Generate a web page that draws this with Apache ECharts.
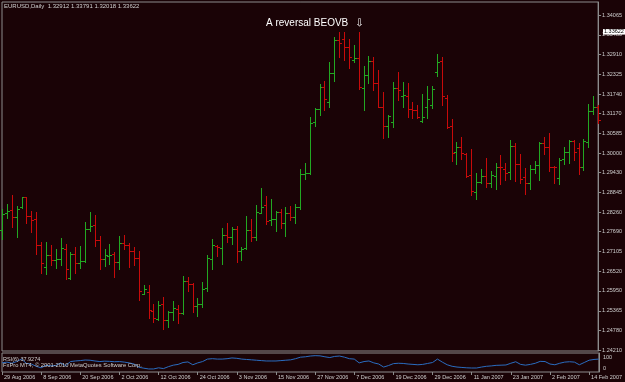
<!DOCTYPE html>
<html><head><meta charset="utf-8">
<script src="https://cdn.jsdelivr.net/npm/echarts@6/dist/echarts.min.js"></script>
<style>html,body{margin:0;padding:0;background:#1a0306;}#c{width:625px;height:382px;}</style>
</head><body><div id="c"></div>
<script>
const dates = [
'29 Aug 2006','30 Aug 2006','31 Aug 2006',
'1 Sep 2006','4 Sep 2006','5 Sep 2006','6 Sep 2006','7 Sep 2006','8 Sep 2006','11 Sep 2006','12 Sep 2006','13 Sep 2006','14 Sep 2006','15 Sep 2006','18 Sep 2006','19 Sep 2006','20 Sep 2006','21 Sep 2006','22 Sep 2006','25 Sep 2006','26 Sep 2006','27 Sep 2006','28 Sep 2006','29 Sep 2006',
'2 Oct 2006','3 Oct 2006','4 Oct 2006','5 Oct 2006','6 Oct 2006','9 Oct 2006','10 Oct 2006','11 Oct 2006','12 Oct 2006','13 Oct 2006','16 Oct 2006','17 Oct 2006','18 Oct 2006','19 Oct 2006','20 Oct 2006','23 Oct 2006','24 Oct 2006','25 Oct 2006','26 Oct 2006','27 Oct 2006','30 Oct 2006','31 Oct 2006',
'1 Nov 2006','2 Nov 2006','3 Nov 2006','6 Nov 2006','7 Nov 2006','8 Nov 2006','9 Nov 2006','10 Nov 2006','13 Nov 2006','14 Nov 2006','15 Nov 2006','16 Nov 2006','17 Nov 2006','20 Nov 2006','21 Nov 2006','22 Nov 2006','23 Nov 2006','24 Nov 2006','27 Nov 2006','28 Nov 2006','29 Nov 2006','30 Nov 2006',
'1 Dec 2006','4 Dec 2006','5 Dec 2006','6 Dec 2006','7 Dec 2006','8 Dec 2006','11 Dec 2006','12 Dec 2006','13 Dec 2006','14 Dec 2006','15 Dec 2006','18 Dec 2006','19 Dec 2006','20 Dec 2006','21 Dec 2006','22 Dec 2006','25 Dec 2006','26 Dec 2006','27 Dec 2006','28 Dec 2006','29 Dec 2006',
'2 Jan 2007','3 Jan 2007','4 Jan 2007','5 Jan 2007','8 Jan 2007','9 Jan 2007','10 Jan 2007','11 Jan 2007','12 Jan 2007','15 Jan 2007','16 Jan 2007','17 Jan 2007','18 Jan 2007','19 Jan 2007','22 Jan 2007','23 Jan 2007','24 Jan 2007','25 Jan 2007','26 Jan 2007','29 Jan 2007','30 Jan 2007','31 Jan 2007',
'1 Feb 2007','2 Feb 2007','5 Feb 2007','6 Feb 2007','7 Feb 2007','8 Feb 2007','9 Feb 2007','12 Feb 2007','13 Feb 2007','14 Feb 2007','15 Feb 2007','16 Feb 2007'
];
const opens = [1.27740,1.28250,1.28328,1.28113,1.28427,1.28701,1.28142,1.28054,1.27289,1.26661,1.26995,1.26870,1.26887,1.27191,1.26318,1.27034,1.26779,1.26838,1.27760,1.27877,1.27446,1.26887,1.26985,1.27024,1.26799,1.27348,1.27289,1.27122,1.26906,1.25857,1.25906,1.25367,1.25112,1.25563,1.25092,1.25318,1.25406,1.25288,1.26230,1.26152,1.25504,1.25552,1.26023,1.26886,1.27269,1.27200,1.27593,1.27524,1.27759,1.27132,1.27200,1.27740,1.27524,1.28240,1.28475,1.28044,1.28054,1.28269,1.27936,1.28230,1.28132,1.28407,1.29388,1.29407,1.30907,1.31300,1.31937,1.31515,1.32369,1.33330,1.33350,1.33114,1.32742,1.32791,1.31908,1.32300,1.32712,1.32074,1.31368,1.30809,1.30907,1.31908,1.31682,1.31682,1.31300,1.31270,1.30956,1.31368,1.31417,1.32379,1.32712,1.31633,1.30799,1.30044,1.30171,1.29965,1.29357,1.28857,1.29161,1.29328,1.29131,1.29328,1.29602,1.29524,1.29455,1.30210,1.29681,1.29288,1.29112,1.29524,1.29661,1.30289,1.30171,1.29602,1.29259,1.29818,1.30044,1.30367,1.30142,1.29602,1.30338,1.31250,1.31368];
const highs = [1.28358,1.28505,1.28770,1.28446,1.28711,1.28711,1.28299,1.28270,1.27377,1.27387,1.27299,1.27171,1.27505,1.27328,1.27083,1.27240,1.27269,1.27966,1.28270,1.28172,1.27573,1.27171,1.27318,1.27083,1.27564,1.27603,1.27358,1.27230,1.27132,1.26122,1.26122,1.25573,1.25641,1.25759,1.25347,1.25651,1.25543,1.26387,1.26357,1.26171,1.25739,1.26219,1.27004,1.27465,1.27298,1.27789,1.27936,1.27818,1.27857,1.27230,1.28161,1.28054,1.28475,1.28985,1.28740,1.28662,1.28299,1.28358,1.28426,1.28446,1.28505,1.29535,1.29702,1.31074,1.31319,1.32035,1.32124,1.32692,1.33409,1.33575,1.33556,1.33350,1.33193,1.33575,1.32565,1.32859,1.32820,1.32447,1.31810,1.31123,1.32104,1.32398,1.32104,1.32074,1.31515,1.31417,1.31741,1.31976,1.31976,1.32918,1.32840,1.31712,1.31005,1.30318,1.30466,1.29995,1.30132,1.29406,1.29524,1.29848,1.29475,1.29720,1.29946,1.29700,1.30387,1.30289,1.29975,1.29553,1.29641,1.29779,1.30338,1.30485,1.30583,1.29622,1.29848,1.30191,1.30387,1.30387,1.30309,1.30407,1.31437,1.31682,1.31417];
const lows = [1.27465,1.28083,1.27838,1.27544,1.28378,1.27936,1.27681,1.27044,1.26485,1.26455,1.26710,1.26632,1.26710,1.26299,1.26289,1.26485,1.26612,1.26789,1.27721,1.27269,1.26603,1.26681,1.26730,1.26367,1.26603,1.27171,1.26661,1.26710,1.25690,1.25847,1.25161,1.25024,1.25092,1.24827,1.24896,1.25082,1.25014,1.25259,1.25955,1.25338,1.25220,1.25483,1.25954,1.26592,1.26974,1.26729,1.27396,1.27328,1.26808,1.26857,1.27181,1.27426,1.27445,1.28230,1.27916,1.27877,1.27710,1.27799,1.27573,1.28034,1.27956,1.28367,1.29231,1.29398,1.30809,1.31123,1.31270,1.31368,1.32133,1.32840,1.32742,1.32496,1.32692,1.31878,1.31270,1.32074,1.31859,1.31368,1.30436,1.30485,1.30780,1.31564,1.31368,1.31054,1.31044,1.31025,1.30927,1.31025,1.31319,1.32271,1.31417,1.30731,1.29779,1.29681,1.29818,1.29288,1.28768,1.28641,1.29131,1.29014,1.29004,1.28945,1.29092,1.29210,1.29239,1.29190,1.29131,1.28798,1.28945,1.29406,1.29210,1.29975,1.29475,1.29112,1.29082,1.29681,1.29720,1.29799,1.29386,1.29504,1.30191,1.31142,1.30897];
const closes = [1.28210,1.28309,1.28113,1.28358,1.28701,1.28152,1.28034,1.27289,1.26759,1.26995,1.26857,1.26887,1.27201,1.26593,1.27034,1.26759,1.26828,1.27760,1.27858,1.27446,1.26887,1.26995,1.27005,1.26789,1.27358,1.27289,1.27122,1.26906,1.25955,1.25994,1.25386,1.25141,1.25534,1.25092,1.25328,1.25436,1.25288,1.26230,1.26152,1.25504,1.25553,1.25993,1.26906,1.27298,1.27230,1.27583,1.27524,1.27759,1.27122,1.27171,1.27740,1.27524,1.28260,1.28426,1.28004,1.28054,1.28279,1.27936,1.28230,1.28112,1.28407,1.29378,1.29407,1.30900,1.31290,1.31957,1.31584,1.32369,1.33330,1.33232,1.33114,1.32820,1.32810,1.31957,1.32300,1.32712,1.32074,1.31368,1.30809,1.31093,1.31908,1.31859,1.31712,1.31300,1.31270,1.31074,1.31074,1.31584,1.31878,1.32692,1.31682,1.30780,1.29995,1.30191,1.29995,1.29328,1.28896,1.29141,1.29328,1.29131,1.29357,1.29602,1.29583,1.29426,1.30210,1.29671,1.29229,1.29112,1.29524,1.29651,1.30289,1.30171,1.29602,1.29583,1.29799,1.30044,1.30367,1.30044,1.29602,1.30358,1.31250,1.31368,1.30976];
const rsi = [48,52,46,55,68,45,42,30,22,35,32,34,48,33,55,58,60,63,62,58,55,57,56,54,55,52,48,42,25,20,16,16,22,18,28,36,40,50,53,38,48,55,68,70,68,68,70,74,72,68,66,64,62,60,58,58,58,60,62,64,70,78,80,84,86,85,80,76,82,84,78,70,68,48,55,58,48,42,26,34,44,46,45,42,40,38,40,45,50,68,52,38,30,26,24,22,21,21,26,30,32,35,36,37,46,54,40,36,40,46,56,55,42,38,46,52,54,52,38,50,62,66,68];
const priceTicks = [1.24210,1.24780,1.25365,1.25950,1.26520,1.27105,1.27690,1.28260,1.28845,1.29430,1.30000,1.30585,1.31170,1.31740,1.32325,1.32910,1.33480,1.34065];
const rsiTicks = [0,100];
const currentOHLC = [1.32912,1.33791,1.32018,1.33622];
const rsiLast = 37.9274;

const BG = '#1a0306', TXT = '#cfcfcf', AX = '#8c8c8c';
const UP = '#22a822', DN = '#c80a0a';
const FONT = '"Liberation Sans", Arial, sans-serif';

const ohlc = dates.map((d, i) => [i, opens[i], closes[i], lows[i], highs[i]]);

function renderItem(params, api) {
  const i = api.value(0);
  const o = api.coord([i, api.value(1)]);
  const c = api.coord([i, api.value(2)]);
  const l = api.coord([i, api.value(3)]);
  const h = api.coord([i, api.value(4)]);
  const color = api.value(2) >= api.value(1) ? UP : DN;
  const x = Math.round(o[0]) + 0.5;
  const oy = Math.round(o[1]) + 0.5, cy = Math.round(c[1]) + 0.5;
  const st = { stroke: color, lineWidth: 1 };
  return { type: 'group', children: [
    { type: 'line', shape: { x1: x, y1: Math.round(h[1]), x2: x, y2: Math.round(l[1]) + 1 }, style: st },
    { type: 'line', shape: { x1: x - 2.5, y1: oy, x2: x, y2: oy }, style: st },
    { type: 'line', shape: { x1: x, y1: cy, x2: x + 2.5, y2: cy }, style: st }
  ]};
}

const chart = echarts.init(document.getElementById('c'), null, { renderer: 'canvas' });
chart.setOption({
  backgroundColor: BG,
  animation: false,
  grid: [
    { left: 2, right: 24, top: 2, height: 349, show: true, borderColor: AX, borderWidth: 1, backgroundColor: 'transparent' },
    { left: 2, right: 24, top: 353, height: 19, show: true, borderColor: AX, borderWidth: 1, backgroundColor: 'transparent' }
  ],
  xAxis: [
    { type: 'category', gridIndex: 0, data: dates, boundaryGap: false,
      axisLine: { show: false }, axisTick: { show: false }, axisLabel: { show: false }, splitLine: { show: false } },
    { type: 'category', gridIndex: 1, data: dates, boundaryGap: false,
      axisLine: { show: false },
      axisTick: { show: true, interval: 7, length: 3, lineStyle: { color: AX } },
      axisLabel: { interval: 7, align: 'left', fontSize: 5.5, color: TXT, margin: 2, fontFamily: FONT, padding: [0, 0, 0, 2] },
      splitLine: { show: false } }
  ],
  yAxis: [
    { type: 'value', gridIndex: 0, position: 'right', min: 1.24181, max: 1.34448,
      axisLine: { show: true, lineStyle: { color: AX } },
      axisTick: { show: true, customValues: priceTicks, length: 3, lineStyle: { color: AX } },
      axisLabel: { customValues: priceTicks, formatter: v => v.toFixed(5), fontSize: 5.5, color: TXT, margin: 4, fontFamily: FONT },
      splitLine: { show: false } },
    { type: 'value', gridIndex: 1, position: 'right', min: 0, max: 100,
      axisLine: { show: true, lineStyle: { color: AX } },
      axisTick: { show: false },
      axisLabel: { customValues: rsiTicks, margin: 4,
        formatter: v => v >= 100 ? '{t|100}' : '{b|0}',
        rich: { t: { fontSize: 5.5, color: TXT, fontFamily: FONT, padding: [8, 0, 0, 0] },
                b: { fontSize: 5.5, color: TXT, fontFamily: FONT, padding: [0, 0, 8, 0] } } },
      splitLine: { show: false } }
  ],
  series: [
    { type: 'custom', xAxisIndex: 0, yAxisIndex: 0, renderItem, data: ohlc, encode: { x: 0, y: [1, 2, 3, 4] }, clip: false },
    { type: 'line', xAxisIndex: 1, yAxisIndex: 1, data: rsi, showSymbol: false, symbol: 'none',
      lineStyle: { color: '#2a6cc0', width: 1 } }
  ]
});

const py = chart.convertToPixel({ yAxisIndex: 0 }, currentOHLC[3]);
chart.setOption({
  graphic: [
    { type: 'text', x: 4, y: 6.5, z: 10, style: { text: 'EURUSD,Daily  ' + currentOHLC.map(v => v.toFixed(5)).join(' '), fill: TXT, font: '6px ' + FONT, verticalAlign: 'middle' } },
    { type: 'text', x: 266, y: 23.5, z: 10, style: { text: 'A reversal BEOVB', fill: '#ffffff', font: '10px ' + FONT, verticalAlign: 'middle' } },
    { type: 'text', x: 359.5, y: 23.5, z: 10, style: { text: '\u21E9', fill: '#ffffff', font: '10px "DejaVu Sans"', verticalAlign: 'middle', align: 'center' } },
    { type: 'text', x: 3, y: 359, z: 10, style: { text: 'RSI(6) ' + rsiLast.toFixed(4), fill: TXT, font: '5.5px ' + FONT, verticalAlign: 'middle' } },
    { type: 'text', x: 3, y: 365.5, z: 10, style: { text: 'FxPro MT4, \u00A9 2001-2010 MetaQuotes Software Corp.', fill: TXT, font: '5.8px ' + FONT, verticalAlign: 'middle' } },
    { type: 'rect', x: 603, y: py - 1, z: 10, shape: { width: 22, height: 5.5 }, style: { fill: '#ffffff' } },
    { type: 'text', x: 604, y: py + 1.75, z: 11, style: { text: currentOHLC[3].toFixed(5), fill: '#000000', font: '5.5px ' + FONT, verticalAlign: 'middle' } }
  ]
});
</script>
</body></html>
